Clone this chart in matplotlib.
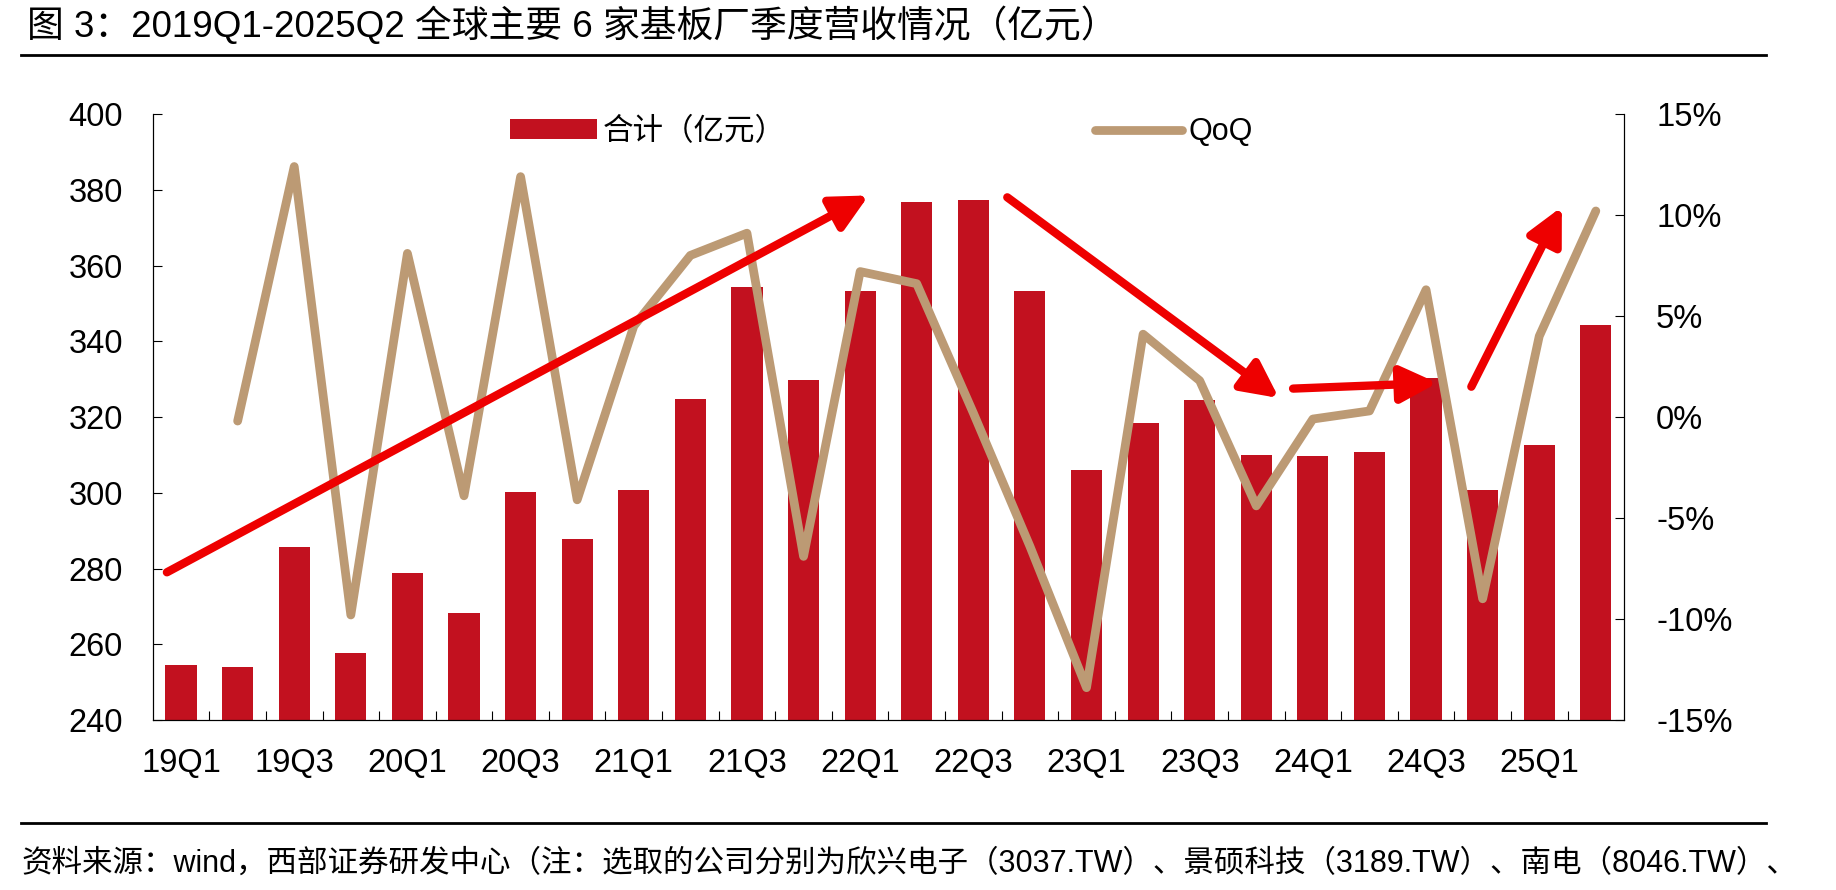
import numpy as np
import matplotlib
matplotlib.use('Agg')
import matplotlib.pyplot as plt
from matplotlib.lines import Line2D

plt.rcParams['font.family'] = ['Liberation Sans', 'Noto Sans CJK SC']

# data
quarters = ['19Q1', '19Q2', '19Q3', '19Q4', '20Q1', '20Q2', '20Q3', '20Q4',
            '21Q1', '21Q2', '21Q3', '21Q4', '22Q1', '22Q2', '22Q3', '22Q4',
            '23Q1', '23Q2', '23Q3', '23Q4', '24Q1', '24Q2', '24Q3', '24Q4',
            '25Q1', '25Q2']
revenue = [254.6, 254.1, 285.8, 257.8, 278.8, 268.2, 300.1, 287.9,
           300.8, 324.8, 354.3, 329.8, 353.4, 376.7, 377.4, 353.2,
           305.9, 318.5, 324.4, 310.1, 309.8, 310.8, 330.4, 300.6,
           312.5, 344.3]
qoq = [np.nan, -0.2, 12.4, -9.8, 8.1, -3.9, 11.9, -4.1,
       4.5, 8.0, 9.1, -6.9, 7.2, 6.6, 0.2, -6.4,
       -13.4, 4.1, 1.8, -4.4, -0.1, 0.3, 6.3, -9.0,
       4.0, 10.2]
left_ticks = [240, 260, 280, 300, 320, 340, 360, 380, 400]
right_ticks = [-15, -10, -5, 0, 5, 10, 15]

# trend arrows (start, end) in (quarter index, revenue) units
arrows = [((-0.25, 279.0), (12.15, 378.5)),
          ((14.6, 378.0), (19.4, 325.0)),
          ((19.65, 327.5), (22.2, 329.0)),
          ((22.8, 328.0), (24.4, 375.5))]

title = '图 3：2019Q1-2025Q2 全球主要 6 家基板厂季度营收情况（亿元）'
source = ('资料来源：wind，西部证券研发中心（注：选取的公司分别为欣兴电子（3037.TW）、'
          '景硕科技（3189.TW）、南电（8046.TW）、')

bar_color = '#C2111F'
line_color = '#BC9A74'
tick_fs = 23.5

fig = plt.figure(figsize=(18.36, 8.90), dpi=100)
ax = fig.add_axes([0.0832, 0.191, 0.8014, 0.6809])
ax2 = ax.twinx()

x = np.arange(len(quarters))
bars = ax.bar(x, revenue, width=0.55, color=bar_color, zorder=2)
ax.set_ylim(240, 400)
ax.set_xlim(-0.5, len(quarters) - 0.5)
ax.set_yticks(left_ticks)
ax.set_yticklabels([str(v) for v in left_ticks], fontsize=tick_fs)
ax.set_xticks(x[::2])
ax.set_xticklabels(quarters[::2], fontsize=tick_fs)
ax.set_xticks(x[:-1] + 0.5, minor=True)
ax.tick_params(axis='x', which='major', length=0, pad=20)
ax.tick_params(axis='x', which='minor', direction='in', length=6.5, width=0.8)
ax.tick_params(axis='y', direction='in', length=6.5, width=0.8, pad=21.5)

line, = ax2.plot(x, qoq, color=line_color, lw=6.3, solid_capstyle='round',
                 solid_joinstyle='round', zorder=3)
ax2.set_ylim(-15, 15)
ax2.set_yticks(right_ticks)
ax2.set_yticklabels([f'{v}%' for v in right_ticks], fontsize=tick_fs)
ax2.tick_params(axis='y', direction='in', length=6.5, width=0.8, pad=23)

for a in (ax, ax2):
    a.spines['top'].set_visible(False)
    for s in ('left', 'right', 'bottom'):
        a.spines[s].set_linewidth(0.8)

for start, end in arrows:
    ax2.annotate('', xy=end, xytext=start, xycoords=ax.transData,
                 textcoords=ax.transData, annotation_clip=False,
                 arrowprops=dict(arrowstyle='-|>,head_length=1.1,head_width=0.55',
                                 mutation_scale=20, lw=6, color='#EE0000',
                                 shrinkA=0, shrinkB=0), zorder=4)

ax2.legend([bars, line], ['合计（亿元）', 'QoQ'], ncol=2, frameon=False,
           loc='center left', bbox_to_anchor=(510 / 1836, 1 - 132 / 890),
           bbox_transform=fig.transFigure, borderpad=0, borderaxespad=0,
           handlelength=2.85, handleheight=0.65, handletextpad=0.2,
           columnspacing=10.1, fontsize=22)

# title, rules and source note
fig.text(27 / 1836, 1 - 26 / 890, title, fontsize=26.5, va='center', ha='left')
for y in (1 - 55 / 890, 1 - 823 / 890):
    fig.add_artist(Line2D([21 / 1836, 1766 / 1836], [y, y], color='black',
                          lw=2, transform=fig.transFigure))
fig.text(21 / 1836, 1 - 864 / 890, source, fontsize=22, va='center', ha='left')

fig.savefig('out.png', dpi=100)
